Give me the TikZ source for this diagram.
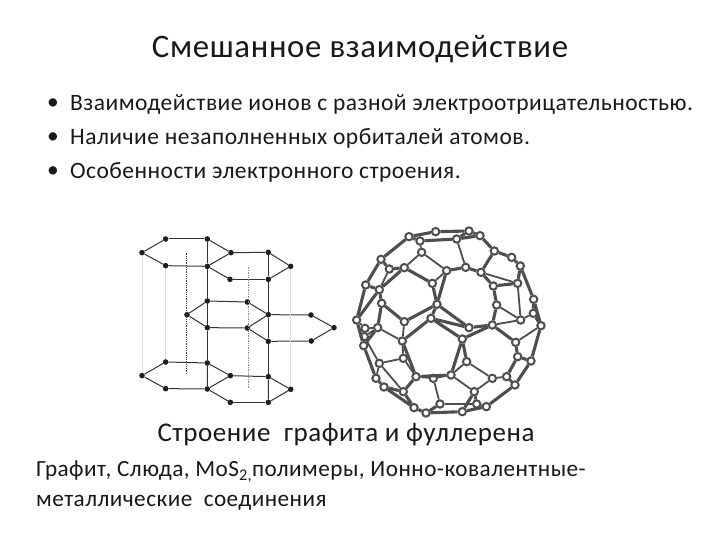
\documentclass[tikz,border=0pt]{standalone}
\usepackage{fontspec}
\setmainfont{Carlito}[LetterSpace=2]
\usepackage{xcolor}
\usetikzlibrary{calc}
\definecolor{txtgray}{RGB}{25,25,25}
\definecolor{bondgray}{RGB}{78,78,78}
\definecolor{faintgray}{RGB}{222,222,222}
\tikzset{
  titletext/.style={inner sep=0pt,text=txtgray,font=\fontsize{32.8}{38}\selectfont},
  bodytext/.style={inner sep=0pt,anchor=west,text=txtgray,font=\fontsize{23.5}{28}\selectfont},
  capttext/.style={inner sep=0pt,text=txtgray,font=\fontsize{27}{32}\selectfont},
  foottext/.style={inner sep=0pt,anchor=west,text=txtgray,font=\fontsize{23.2}{28}\selectfont},
  atomdot/.style={circle,fill=black!88,inner sep=0pt,minimum size=5.6pt},
  bond/.style={black!80,line width=1pt},
  ballnode/.style={circle,draw=bondgray,fill=white,line width=2pt,inner sep=0pt,minimum size=7.4pt},
  thickbond/.style={bondgray,line width=3.1pt},
  thinbond/.style={bondgray,line width=1.8pt}
}
\begin{document}
\begin{tikzpicture}[x=1pt,y=-1pt]
\useasboundingbox (0,0) rectangle (720,540);
\fill[white] (0,0) rectangle (720,540);
% headings
\node[titletext] (title) at (360,49.5) {Смешанное взаимодействие};
\foreach \i/\y/\s in {1/104.5/Взаимодействие ионов с разной электроотрицательностью.,2/138.5/Наличие незаполненных орбиталей атомов.,3/172.5/Особенности электронного строения.}{
  \node[bodytext] (bul\i) at (47,\y) {•};
  \node[bodytext] (line\i) at (70,\y) {\s};
}
\node[capttext] (capt) at (346,435) {Строение\ \ графита и фуллерена};
\node[foottext] (foot1) at (36,472) {Графит, Слюда, MoS\textsubscript{2,}полимеры, Ионно-ковалентные-};
\node[foottext] (foot2) at (36,503) {металлические\ \ соединения};
% graphite
\begin{scope}[shift={(120,220)},scale=0.3333]
\foreach \n/\x/\y in {t1/66/98,t2/137/57,t3/262/57,t4/333/98,t5/262/139,t6/137/137,t7/445/97,t8/512/139,t9/445/178,t10/330/178,
  m1/201/284,m2/262/243,m3/382/246,m4/445/284,m5/382/324,m6/262/323,m7/573/285,m8/642/323,m9/574/363,m10/445/364,
  b1/66/467,b2/137/426,b3/262/429,b4/331/467,b5/262/507,b6/137/506,b7/445/470,b8/512/508,b9/445/547,b10/331/547}
  \node[atomdot] (\n) at (\x,\y) {};
\coordinate (d1) at (200,98);
\coordinate (d2) at (200,462);
\coordinate (d3) at (386,140);
\coordinate (d4) at (386,505);
\foreach \a/\b in {t1/t2,t2/t3,t3/t4,t4/t5,t5/t6,t6/t1,t4/t7,t7/t8,t8/t9,t9/t10,t10/t5,
  m1/m2,m2/m3,m3/m4,m4/m5,m5/m6,m6/m1,m4/m7,m7/m8,m8/m9,m9/m10,m10/m5,
  b1/b2,b2/b3,b3/b4,b4/b5,b5/b6,b6/b1,b4/b7,b7/b8,b8/b9,b9/b10,b10/b5,
  t3/t5,t5/m2,m2/m6,m6/b3,b3/b5,t7/t9,t9/m4,m4/m10,m10/b7,b7/b9}
  \draw[bond] (\a) -- (\b);
\foreach \a/\b in {t1/b1,t6/b2,t8/b8}
  \draw[faintgray,line width=0.6pt] (\a) -- (\b);
\draw[black!75,line width=0.8pt,densely dotted] (d1) -- (d2);
\draw[black!45,line width=0.7pt,densely dotted] (d3) -- (d4);
\end{scope}
% fullerene
\begin{scope}[shift={(345,215)},scale=0.3333]
\foreach \n/\x/\y in {a1/192/65,a2/272/50,a3/372/48,a4/405/62,a5/448/108,a6/500/127,a7/526/153,a8/566/253,a9/588/332,a10/558/438,a11/510/510,a12/424/575,a13/352/590,a14/243/594,a15/207/578,a16/117/516,a17/93/490,a18/56/392,a19/35/315,a20/62/210,a21/108/133,
  c1/225/78,c2/335/72,c3/230/112,c4/178/158,c5/133/162,c6/305/167,c7/362/157,c8/408/172,c9/262/205,c10/445/213,c11/518/205,c12/103/224,c13/110/265,c14/276/268,c15/455/270,c16/527/315,c17/565/295,c18/178/320,c19/258/310,c20/442/330,c21/372/338,c22/98/338,c23/60/340,c24/58/365,c25/172/378,c26/352/372,c27/512/382,c28/175/430,c29/103/445,c30/365/440,c31/518/425,c32/213/485,c33/318/480,c34/265/490,c35/442/490,c36/485/485,c37/175/530,c38/388/530,c39/285/567,c40/395/567}
  \node[ballnode] (\n) at (\x,\y) {};
\foreach \a/\b in {a1/a2,a2/a3,a3/a4,a4/a5,a5/a6,a6/a7,a7/a8,a8/a9,a9/a10,a10/a11,a11/a12,a12/a13,a13/a14,a14/a15,a15/a16,a16/a17,a17/a18,a18/a19,a19/a20,a20/a21,a21/a1,
  a1/c1,c1/c2,c2/a3,c2/a4,c4/c9,c9/c14,c14/c18,c18/c13,c13/c12,c12/c4,c6/c7,c7/c8,c8/c10,c10/c15,c15/c20,c20/c21,c21/c14,c14/c6,
  c19/c26,c26/c33,c33/c32,c32/c25,c25/c19,c20/c26,c21/c19,c19/c14,a15/c37,a14/c39,c8/a5,c10/c11,c11/a7,c17/a8,c17/a9,c36/c31,c31/a10,c36/a11,c38/c40,c40/a12,a21/c5,c5/c4,a20/c12,c12/a19,c13/c22,c22/a18,c20/c27,c27/c31,c32/c37,c37/a16,c38/a13,c26/c30}
  \draw[thickbond] (\a) -- (\b);
\foreach \a/\b in {c3/c1,c3/c4,c3/c6,c9/c6,c7/c2,c15/c16,c16/c20,c16/c17,c11/c16,c18/c25,c25/c22,c22/c24,c24/a18,c23/a19,c23/c22,c25/c28,c28/c29,c29/a17,c29/c24,c28/c32,c29/c37,c32/c34,c34/c33,c34/c39,c39/c40,c33/c38,c38/c35,c35/c36,c35/c30,c30/c33,c27/a9,c5/c12,c8/c11}
  \draw[thinbond] (\a) -- (\b);
\end{scope}
\end{tikzpicture}
\end{document}
